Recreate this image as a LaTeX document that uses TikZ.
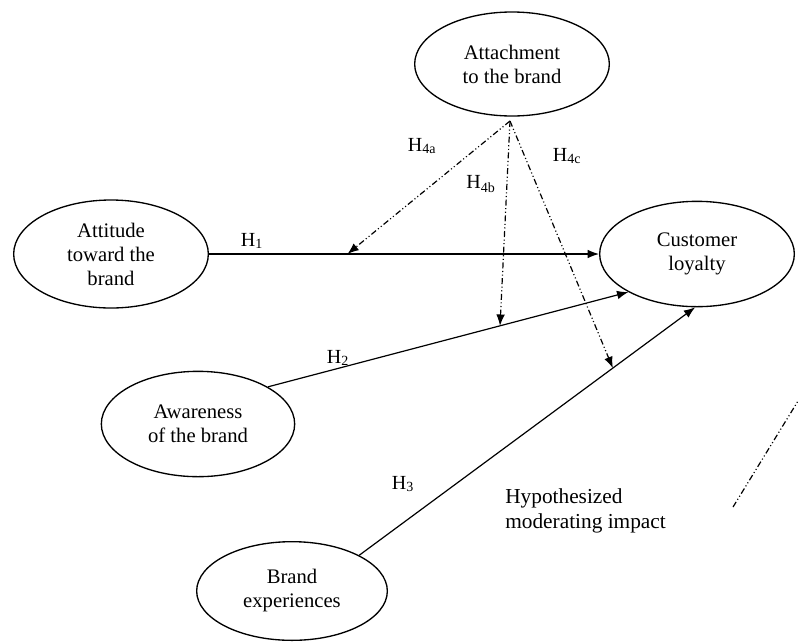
\documentclass[tikz,border=0pt]{standalone}
\usepackage{fontspec}
\setmainfont{Liberation Serif}
\usetikzlibrary{shapes.geometric,arrows.meta}
\begin{document}
\begin{tikzpicture}[x=0.75pt,y=-0.75pt,
  construct/.style={ellipse,draw,line width=1pt,inner sep=0pt,align=center,
    font=\fontsize{15.5}{18}\selectfont},
  effect/.style={line width=0.9pt,-{Latex[length=8.5pt,width=6.5pt]}},
  moder/.style={line width=0.9pt,
    dash pattern=on 4.5pt off 1.9pt on 0.8pt off 1.9pt on 0.8pt off 1.9pt},
  moderarrow/.style={moder,-{Latex[length=8.5pt,width=6.5pt]}},
  hlabel/.style={font=\fontsize{15}{18}\selectfont,inner sep=0pt}]
\useasboundingbox (0,0) rectangle (798,643);

% constructs
\node[construct,minimum width=146pt,minimum height=78pt] (att) at (512,64) {Attachment\\to the brand};
\node[construct,minimum width=146pt,minimum height=81pt] (attd) at (111,254) {Attitude\\toward the\\brand};
\node[construct,minimum width=146pt,minimum height=79pt] (loy) at (697,254) {Customer\\loyalty};
\node[construct,minimum width=145pt,minimum height=79pt] (awa) at (198,424) {Awareness\\of the brand};
\node[construct,minimum width=143pt,minimum height=74pt] (bexp) at (292,591) {Brand\\experiences};

% direct effects
\draw[effect] (attd.east) -- coordinate[pos=0.355] (p1) (loy.west);
\draw[effect] (awa.28) -- coordinate[pos=0.644] (p2) (loy.209);
\draw[effect] (bexp.28) -- coordinate[pos=0.755] (p3) (loy.268);

% moderating effects of attachment
\coordinate (m) at (510,121);
\draw[moderarrow] (m) -- (p1);
\draw[moderarrow] (m) -- (p2);
\draw[moderarrow] (m) -- (p3);

% hypothesis labels
\node[hlabel] (h1) at (252,241) {H\textsubscript{1}};
\node[hlabel] (h2) at (338,358) {H\textsubscript{2}};
\node[hlabel] (h3) at (403,484) {H\textsubscript{3}};
\node[hlabel] (h4a) at (422,146) {H\textsubscript{4a}};
\node[hlabel] (h4b) at (481,184) {H\textsubscript{4b}};
\node[hlabel] (h4c) at (567,156) {H\textsubscript{4c}};

% legend
\node[anchor=west,align=left,inner sep=0pt,font=\fontsize{16}{19}\selectfont] (legend) at (505,511)
  {Hypothesized\\moderating impact};
\coordinate (lg1) at (733,507);
\coordinate (lg2) at (798,401);
\draw[moder] (lg1) -- (lg2);
\end{tikzpicture}
\end{document}
